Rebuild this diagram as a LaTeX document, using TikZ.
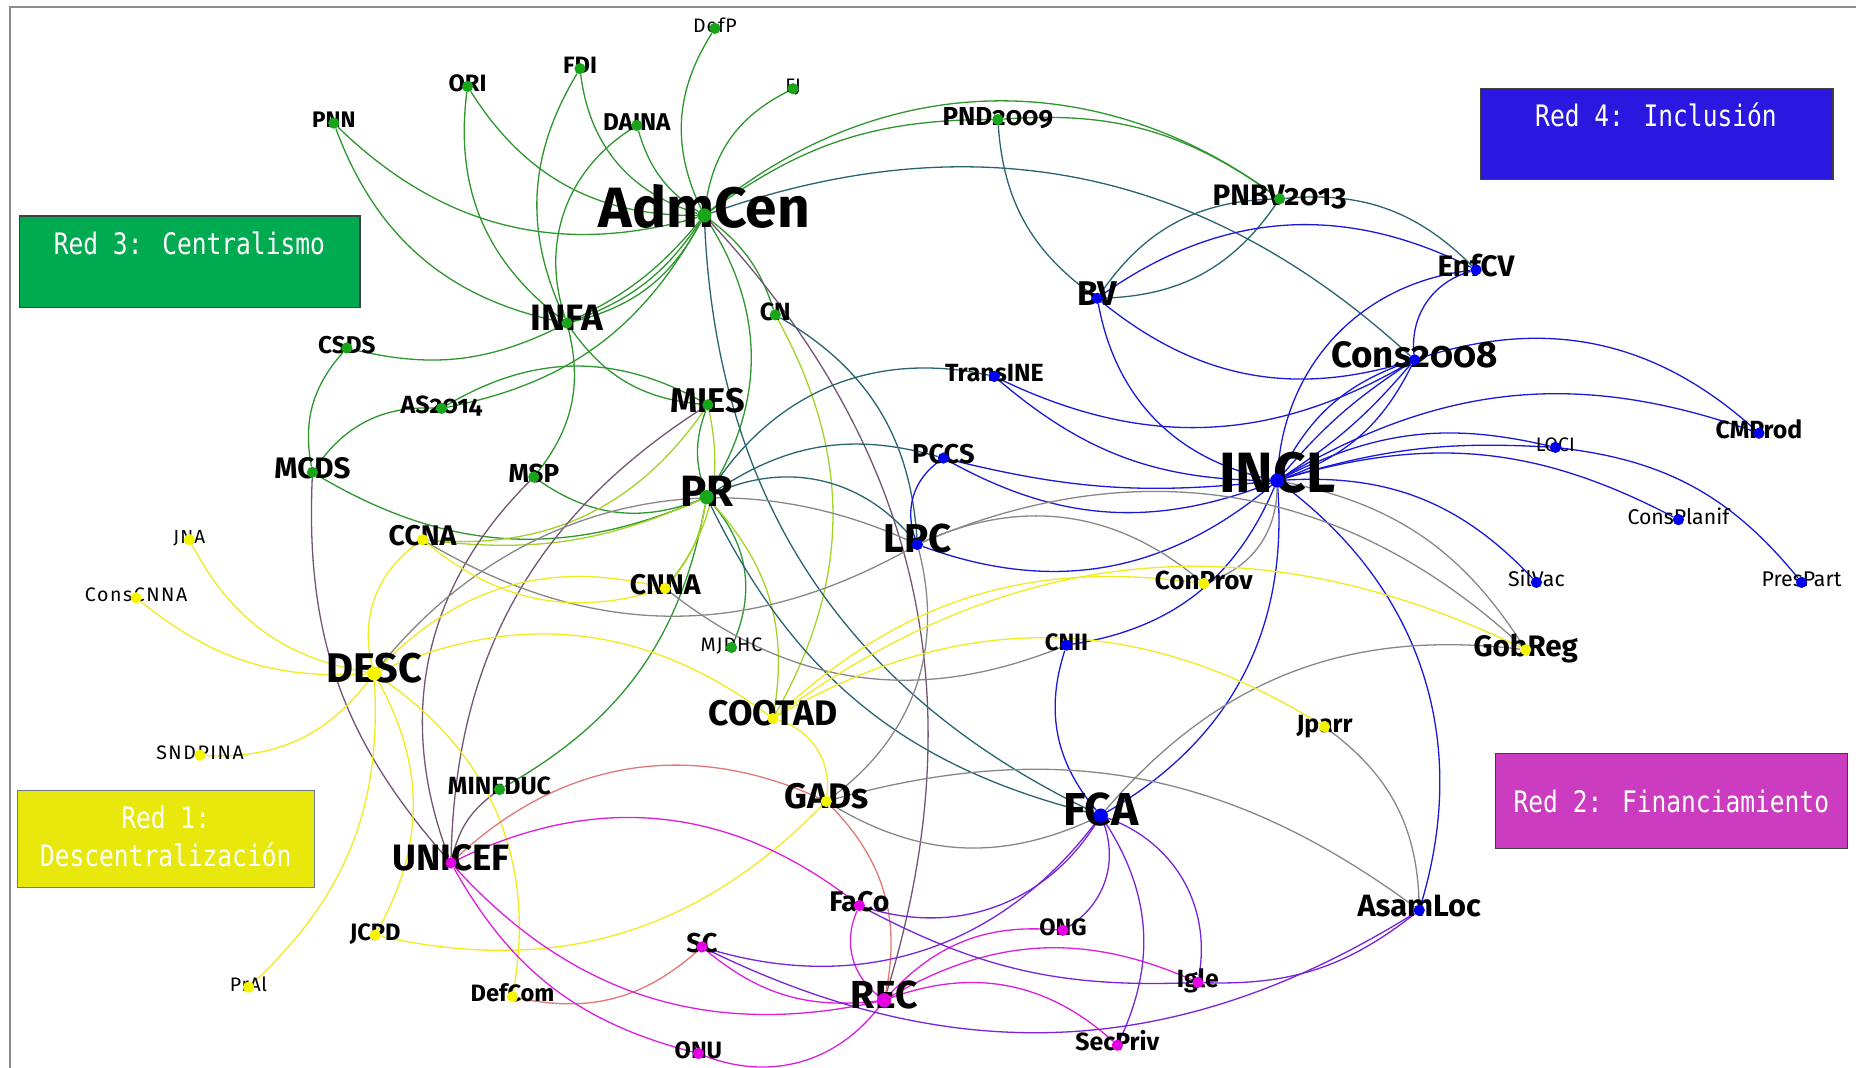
\documentclass[tikz,border=0pt]{standalone}
\usepackage{fontspec}
\setmainfont{Fira Sans}[Numbers=OldStyle]
\newfontfamily\boxfont{DejaVu Sans Mono}[FakeStretch=0.83]
\pgfdeclarelayer{edgelayer}
\pgfsetlayers{edgelayer,main}

% node colours
\definecolor{nG}{RGB}{25,165,25}
\definecolor{nB}{RGB}{0,0,240}
\definecolor{nY}{RGB}{245,245,0}
\definecolor{nM}{RGB}{230,0,230}
% edge colours (blend of the two end colours)
\definecolor{cG}{RGB}{45,150,45}
\definecolor{cT}{RGB}{40,100,112}
\definecolor{cYG}{RGB}{165,210,40}
\definecolor{cBr}{RGB}{115,85,115}
\definecolor{cGr}{RGB}{135,135,135}
\definecolor{cB}{RGB}{25,25,215}
\definecolor{cP}{RGB}{120,35,220}
\definecolor{cM}{RGB}{220,30,220}
\definecolor{cS}{RGB}{225,120,120}
\definecolor{cY}{RGB}{240,235,30}
% legend boxes
\definecolor{boxG}{RGB}{0,170,80}
\definecolor{boxB}{RGB}{42,24,224}
\definecolor{boxM}{RGB}{204,60,192}
\definecolor{boxY}{RGB}{232,232,12}
\definecolor{boxYline}{RGB}{108,120,144}

\tikzset{
  dotn/.style={circle, inner sep=0pt, minimum size=9.5pt},
  gd/.style={dotn, fill=nG}, bd/.style={dotn, fill=nB},
  yd/.style={dotn, fill=nY}, md/.style={dotn, fill=nM},
  big/.style={minimum size=12pt},
  lbl/.style={inner sep=0pt, anchor=base, text=black},
  con/.style={line width=1.1pt},
  legend/.style={draw=black!75, line width=1pt, anchor=north west, inner sep=0pt},
  legendtxt/.style={inner sep=0pt, text=white, anchor=base, align=center,
    font=\boxfont\fontsize{25}{32}\selectfont},
  frameline/.style={draw=black!45, line width=1.5pt}
}

% #1 name, #2 x, #3 y, #4 dot style, #5 size, #6 extra font commands, #7 text
\newcommand{\netnode}[7]{%
  \node[lbl, font={\fontsize{#5}{#5}\selectfont#6}, yshift={-0.21*#5}] (#1-t) at (#2,#3) {#7};
  \node[#4] (#1) at (#2,#3) {};}

\begin{document}
\begin{tikzpicture}[x=1pt, y=-1pt]
\useasboundingbox (0,0) rectangle (1568,902);
\draw[frameline] (8.4,902) -- (8.4,5.6) -- (1568,5.6);

% ---------- legend boxes ----------
\node[legend, fill=boxG, minimum width=288pt, minimum height=77pt] (red3) at (15.7,182) {};
\node[legendtxt] (red3-t) at (160,215) {Red 3: Centralismo};
\node[legend, fill=boxB, minimum width=298pt, minimum height=77pt] (red4) at (1250,74) {};
\node[legendtxt] (red4-t) at (1399,107) {Red 4: Inclusión};
\node[legend, fill=boxM, minimum width=297pt, minimum height=80pt] (red2) at (1263,636) {};
\node[legendtxt] (red2-t) at (1412,686) {Red 2: Financiamiento};
\node[legend, draw=boxYline, fill=boxY, minimum width=251pt, minimum height=82pt] (red1) at (14,667) {};
% the base anchor of a two-line node sits on its last line
\node[legendtxt] (red1-t) at (140,732) {Red 1:\\Descentralización};

% ---------- nodes: Red 3 (green) ----------
\netnode{PNN}{282}{104}{gd}{19}{\bfseries}{PNN}
\netnode{ORI}{395}{73}{gd}{20}{\bfseries}{ORI}
\netnode{FDI}{490}{58}{gd}{20}{\bfseries}{FDI}
\netnode{DefP}{604}{24}{gd}{16.5}{\addfontfeatures{LetterSpace=4}}{DefP}
\netnode{FJ}{670}{75}{gd}{16.5}{}{FJ}
\netnode{DAINA}{538}{106}{gd}{20.5}{\bfseries}{DAINA}
\netnode{AdmCen}{595}{182}{gd,big}{48}{\bfseries}{AdmCen}
\netnode{PND2009}{843}{101}{gd}{22}{\bfseries}{PND2009}
\netnode{PNBV2013}{1081}{168}{gd}{25}{\bfseries}{PNBV2013}
\netnode{INFA}{479}{273}{gd}{31}{\bfseries}{INFA}
\netnode{CSDS}{293}{294}{gd}{20.5}{\bfseries}{CSDS}
\netnode{CN}{655}{266}{gd}{21}{\bfseries}{CN}
\netnode{AS2014}{373}{345}{gd}{21}{\bfseries}{AS2014}
\netnode{MIES}{598}{342}{gd}{29}{\bfseries}{MIES}
\netnode{MCDS}{264}{399}{gd}{25}{\bfseries}{MCDS}
\netnode{MSP}{451}{403}{gd}{22}{\bfseries}{MSP}
\netnode{PR}{597}{420}{gd,big}{37}{\bfseries}{PR}
\netnode{MJDHC}{618}{547}{gd}{16.5}{\addfontfeatures{LetterSpace=5}}{MJDHC}
\netnode{MINEDUC}{422}{667}{gd}{21}{\bfseries}{MINEDUC}

% ---------- nodes: Red 1 (yellow) ----------
\netnode{JNA}{160}{456}{yd}{16}{\addfontfeatures{LetterSpace=6}}{JNA}
\netnode{CCNA}{357}{456}{yd}{24}{\bfseries}{CCNA}
\netnode{ConsCNNA}{115}{505}{yd}{16.5}{\addfontfeatures{LetterSpace=8}}{ConsCNNA}
\netnode{DESC}{316}{569}{yd,big}{35}{\bfseries}{DESC}
\netnode{CNNA}{562}{497}{yd}{24}{\bfseries}{CNNA}
\netnode{SNDPINA}{169}{638}{yd}{16.5}{\addfontfeatures{LetterSpace=8}}{SNDPINA}
\netnode{COOTAD}{653}{607}{yd}{30}{\bfseries}{COOTAD}
\netnode{GADs}{698}{677}{yd}{30}{\bfseries}{GADs}
\netnode{PrAl}{210}{834}{yd}{16.5}{\addfontfeatures{LetterSpace=3}}{PrAl}
\netnode{JCPD}{317}{790}{yd}{20}{\bfseries}{JCPD}
\netnode{DefCom}{433}{842}{yd}{20}{\bfseries}{DefCom}
\netnode{ConProv}{1017}{493}{yd}{22}{\bfseries}{ConProv}
\netnode{GobReg}{1289}{549}{yd}{25}{\bfseries}{GobReg}
\netnode{Jparr}{1119}{614}{yd}{21}{\bfseries}{Jparr}

% ---------- nodes: Red 4 (blue) ----------
\netnode{BV}{927}{252}{bd}{29}{\bfseries}{BV}
\netnode{EnfCV}{1247}{228}{bd}{25}{\bfseries}{EnfCV}
\netnode{Cons2008}{1195}{304}{bd}{31}{\bfseries}{Cons2008}
\netnode{TransINE}{840}{318}{bd}{21}{\bfseries}{TransINE}
\netnode{PCCS}{797}{387}{bd}{23}{\bfseries}{PCCS}
\netnode{LPC}{775}{460}{bd}{34}{\bfseries}{LPC}
\netnode{INCL}{1079}{406}{bd,big}{48}{\bfseries}{INCL}
\netnode{CMProd}{1486}{366}{bd}{21}{\bfseries}{CMProd}
\netnode{LOCI}{1314}{378}{bd}{16.5}{}{LOCI}
\netnode{ConsPlanif}{1418}{439}{bd}{18}{}{ConsPlanif}
\netnode{SilVac}{1298}{492}{bd}{18}{}{SilVac}
\netnode{PresPart}{1522}{492}{bd}{18}{}{PresPart}
\netnode{CNII}{901}{545}{bd}{20}{\bfseries}{CNII}
\netnode{FCA}{930}{689}{bd,big}{39}{\bfseries}{FCA}
\netnode{AsamLoc}{1199}{769}{bd}{26}{\bfseries}{AsamLoc}

% ---------- nodes: Red 2 (magenta) ----------
\netnode{UNICEF}{381}{729}{md}{31}{\bfseries}{UNICEF}
\netnode{FaCo}{726}{765}{md}{24}{\bfseries}{FaCo}
\netnode{ONG}{898}{786}{md}{20}{\bfseries}{ONG}
\netnode{SC}{593}{800}{md}{23}{\bfseries}{SC}
\netnode{REC}{747}{845}{md,big}{33}{\bfseries}{REC}
\netnode{Igle}{1012}{830}{md}{21}{\bfseries}{Igle}
\netnode{SecPriv}{944}{883}{md}{21}{\bfseries}{SecPriv}
\netnode{ONU}{590}{890}{md}{20}{\bfseries}{ONU}

% ---------- connectors ----------
\begin{pgfonlayer}{edgelayer}
% green - green
\draw[con,cG] (PNN) to[bend right=30] (AdmCen);
\draw[con,cG] (PNN) to[bend right=29] (INFA);
\draw[con,cG] (ORI) to[bend right=29] (AdmCen);
\draw[con,cG] (ORI) to[bend right=30] (INFA);
\draw[con,cG] (FDI) to[bend right=28] (INFA);
\draw[con,cG] (FDI) to[bend right=33] (AdmCen);
\draw[con,cG] (DAINA) to[bend right=20] (AdmCen);
\draw[con,cG] (DAINA) to[bend right=38] (INFA);
\draw[con,cG] (DefP) to[bend right=29] (AdmCen);
\draw[con,cG] (FJ) to[bend right=28] (AdmCen);
\draw[con,cG] (AdmCen) to[bend left=18] (PND2009);
\draw[con,cG] (AdmCen) to[bend left=38] (PNBV2013);
\draw[con,cG] (PND2009) to[bend left=20] (PNBV2013);
\draw[con,cG] (AdmCen) to[bend left=17] (CN);
\draw[con,cG] (AdmCen) to[bend left=12] (INFA);
\draw[con,cG] (AdmCen) to[bend left=18] (INFA);
\draw[con,cG] (AdmCen) to[bend left=24] (INFA);
\draw[con,cG] (CSDS) to[bend right=20] (INFA);
\draw[con,cG] (CSDS) to[bend right=26] (MCDS);
\draw[con,cG] (MCDS) to[bend left=29] (AS2014);
\draw[con,cG] (MCDS) to[bend right=27] (PR);
\draw[con,cG] (AS2014) to[bend right=25] (AdmCen);
\draw[con,cG] (AS2014) to[bend left=30] (MIES);
\draw[con,cG] (INFA) to[bend right=25] (MIES);
\draw[con,cG] (INFA) to[bend left=26] (MSP);
\draw[con,cG] (MSP) to[bend right=28] (PR);
\draw[con,cG] (AdmCen) to[bend left=32] (PR);
\draw[con,cG] (MIES) to[bend right=19] (PR);
\draw[con,cG] (PR) to[bend left=32] (MJDHC);
\draw[con,cG] (PR) to[bend left=25] (MINEDUC);
% green - yellow
\draw[con,cYG] (MIES) to[bend left=30] (CCNA);
\draw[con,cYG] (PR) to[bend left=15] (CCNA);
\draw[con,cYG] (PR) to[bend left=15] (CNNA);
\draw[con,cYG] (PR) to[bend left=26] (COOTAD);
\draw[con,cYG] (CN) to[bend left=29] (COOTAD);
\draw[con,cYG] (MIES) to[bend left=25] (CNNA);
% green - magenta
\draw[con,cBr] (AdmCen) to[bend left=30] (REC);
\draw[con,cBr] (MCDS) to[bend right=22] (UNICEF);
\draw[con,cBr] (MSP) to[bend right=33] (UNICEF);
\draw[con,cBr] (MIES) to[bend right=28] (UNICEF);
\draw[con,cBr] (UNICEF) to[bend left=20] (MINEDUC);
% green - blue
\draw[con,cT] (AdmCen) to[bend left=31] (Cons2008);
\draw[con,cT] (PND2009) to[bend right=25] (BV);
\draw[con,cT] (BV) to[bend left=27] (PNBV2013);
\draw[con,cT] (PNBV2013) to[bend left=27] (BV);
\draw[con,cT] (PNBV2013) to[bend left=25] (EnfCV);
\draw[con,cT] (AdmCen) to[bend right=31] (FCA);
\draw[con,cT] (PR) to[bend right=25] (FCA);
\draw[con,cT] (CN) to[bend left=28] (LPC);
\draw[con,cT] (PR) to[bend left=35] (TransINE);
\draw[con,cT] (PR) to[bend left=25] (PCCS);
\draw[con,cT] (PR) to[bend left=38] (LPC);
% blue - blue
\draw[con,cB] (BV) to[bend left=31] (EnfCV);
\draw[con,cB] (BV) to[bend right=28] (Cons2008);
\draw[con,cB] (BV) to[bend right=34] (INCL);
\draw[con,cB] (EnfCV) to[bend right=40] (Cons2008);
\draw[con,cB] (EnfCV) to[bend right=40] (INCL);
\draw[con,cB] (Cons2008) to[bend left=8] (INCL);
\draw[con,cB] (Cons2008) to[bend right=8] (INCL);
\draw[con,cB] (Cons2008) to[bend left=22] (INCL);
\draw[con,cB] (Cons2008) to[bend right=22] (INCL);
\draw[con,cB] (Cons2008) to[bend left=30] (CMProd);
\draw[con,cB] (INCL) to[bend left=25] (CMProd);
\draw[con,cB] (INCL) to[bend left=10] (LOCI);
\draw[con,cB] (INCL) to[bend left=20] (LOCI);
\draw[con,cB] (INCL) to[bend left=22] (ConsPlanif);
\draw[con,cB] (LOCI) to[bend left=22] (PresPart);
\draw[con,cB] (INCL) to[bend left=25] (SilVac);
\draw[con,cB] (TransINE) to[bend right=20] (INCL);
\draw[con,cB] (TransINE) to[bend right=28] (Cons2008);
\draw[con,cB] (PCCS) to[bend right=10] (INCL);
\draw[con,cB] (PCCS) to[bend right=25] (INCL);
\draw[con,cB] (PCCS) to[bend right=37] (LPC);
\draw[con,cB] (LPC) to[bend right=30] (INCL);
\draw[con,cB] (INCL) to[bend left=29] (CNII);
\draw[con,cB] (INCL) to[bend left=32] (FCA);
\draw[con,cB] (INCL) to[bend left=35] (AsamLoc);
\draw[con,cB] (CNII) to[bend right=29] (FCA);
% blue - yellow
\draw[con,cGr] (LPC) to[bend left=32] (ConProv);
\draw[con,cGr] (LPC) to[bend left=33] (GobReg);
\draw[con,cGr] (DESC) to[bend left=38] (LPC);
\draw[con,cGr] (CCNA) to[bend right=30] (LPC);
\draw[con,cGr] (LPC) to[bend left=34] (GADs);
\draw[con,cGr] (INCL) to[bend left=35] (ConProv);
\draw[con,cGr] (INCL) to[bend left=23] (GobReg);
\draw[con,cGr] (CNNA) to[bend right=30] (CNII);
\draw[con,cGr] (GADs) to[bend left=26] (AsamLoc);
\draw[con,cGr] (GADs) to[bend right=28] (FCA);
\draw[con,cGr] (FCA) to[bend left=28] (GobReg);
\draw[con,cGr] (Jparr) to[bend left=26] (AsamLoc);
% yellow - yellow
\draw[con,cY] (DESC) to[bend left=30] (CNNA);
\draw[con,cY] (CCNA) to[bend right=28] (CNNA);
\draw[con,cY] (DESC) to[bend left=30] (COOTAD);
\draw[con,cY] (COOTAD) to[bend left=25] (ConProv);
\draw[con,cY] (COOTAD) to[bend left=31] (GobReg);
\draw[con,cY] (COOTAD) to[bend left=31] (Jparr);
\draw[con,cY] (COOTAD) to[bend left=40] (GADs);
\draw[con,cY] (GADs) to[bend left=29] (JCPD);
\draw[con,cY] (DESC) to[bend left=33] (DefCom);
\draw[con,cY] (DESC) to[bend left=29] (JCPD);
\draw[con,cY] (DESC) to[bend left=25] (PrAl);
\draw[con,cY] (SNDPINA) to[bend right=28] (DESC);
\draw[con,cY] (ConsCNNA) to[bend right=21] (DESC);
\draw[con,cY] (JNA) to[bend right=26] (DESC);
\draw[con,cY] (CCNA) to[bend right=34] (DESC);
% yellow - magenta
\draw[con,cS] (UNICEF) to[bend left=34] (GADs);
\draw[con,cS] (GADs) to[bend left=28] (REC);
\draw[con,cS] (SC) to[bend left=27] (DefCom);
% magenta - magenta
\draw[con,cM] (UNICEF) to[bend left=32] (FaCo);
\draw[con,cM] (UNICEF) to[bend right=30] (REC);
\draw[con,cM] (UNICEF) to[bend right=23] (ONU);
\draw[con,cM] (FaCo) to[bend right=38] (REC);
\draw[con,cM] (REC) to[bend left=26] (ONG);
\draw[con,cM] (REC) to[bend left=27] (Igle);
\draw[con,cM] (REC) to[bend left=31] (SecPriv);
\draw[con,cM] (REC) to[bend left=37] (ONU);
\draw[con,cM] (SC) to[bend right=23] (REC);
% blue - magenta
\draw[con,cP] (FaCo) to[bend right=38] (FCA);
\draw[con,cP] (FaCo) to[bend right=15] (Igle);
\draw[con,cP] (SC) to[bend right=35] (FCA);
\draw[con,cP] (SC) to[bend right=29] (AsamLoc);
\draw[con,cP] (FCA) to[bend left=39] (ONG);
\draw[con,cP] (FCA) to[bend left=29] (SecPriv);
\draw[con,cP] (FCA) to[bend left=40] (Igle);
\draw[con,cP] (AsamLoc) to[bend left=20] (Igle);
\end{pgfonlayer}
\end{tikzpicture}
\end{document}
